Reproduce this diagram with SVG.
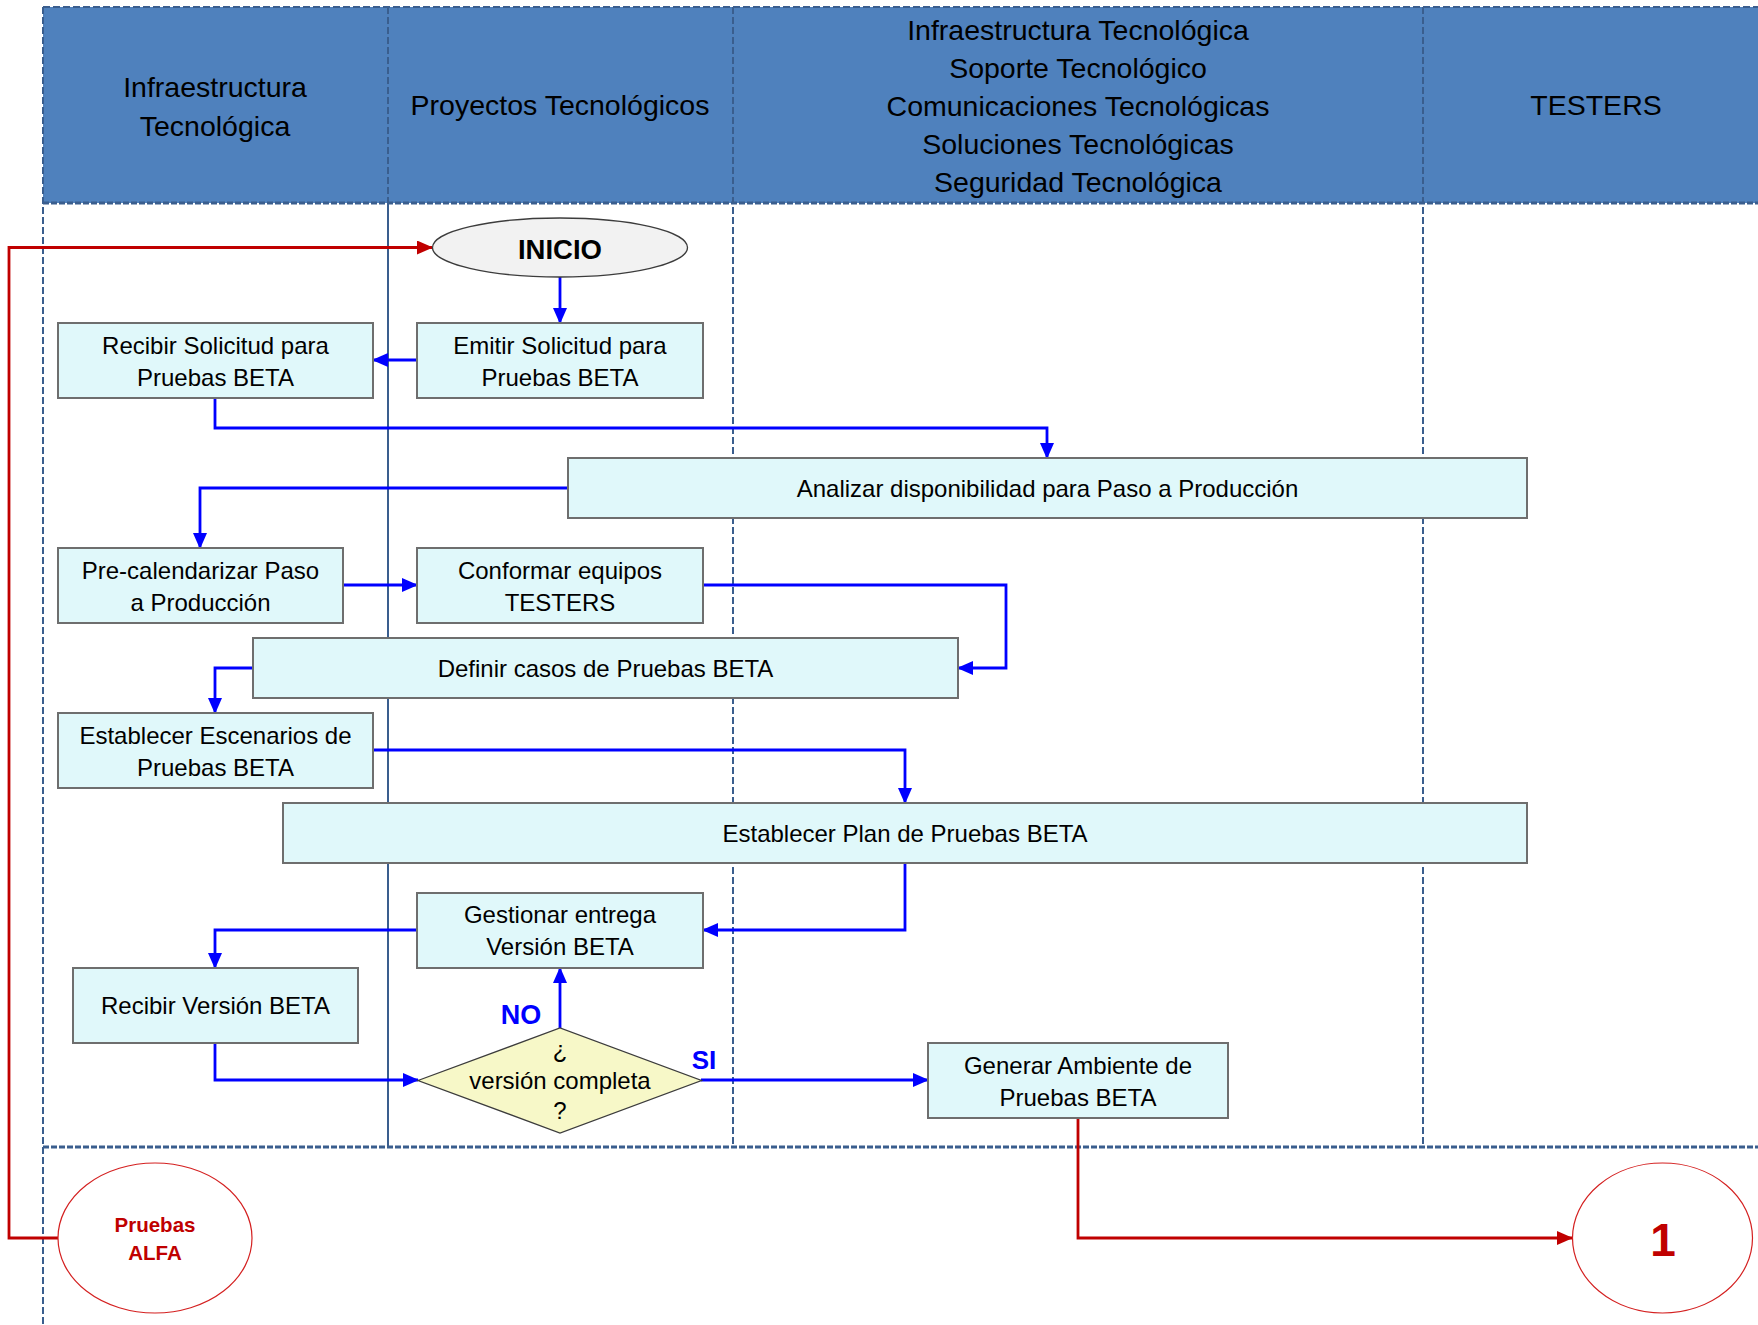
<svg xmlns="http://www.w3.org/2000/svg" width="1758" height="1325" viewBox="0 0 1758 1325">
<style>
.hdr{font-family:"Liberation Sans",Arial,sans-serif;font-size:28.5px;text-anchor:middle;fill:#000}
.lane{stroke:#3A5E8E;stroke-width:2;stroke-dasharray:7 3;fill:none}
.laneb{stroke:#3A5E8E;stroke-width:2.8;stroke-dasharray:6 2;fill:none}
.box{fill:#E0F8FA;stroke:#6E6E6E;stroke-width:2}
.txt{font-family:"Liberation Sans",Arial,sans-serif;font-size:24px;text-anchor:middle;fill:#000}
.blue{stroke:#0000FF;stroke-width:2.8;fill:none}
.red{stroke:#C00000;stroke-width:2.8;fill:none}
.lbl{font-family:"Liberation Sans",Arial,sans-serif;font-weight:bold;fill:#0000FF;text-anchor:middle}
.redtxt{font-family:"Liberation Sans",Arial,sans-serif;font-weight:bold;fill:#C00000;text-anchor:middle}
</style>
<defs>
<marker id="ab" markerUnits="userSpaceOnUse" markerWidth="16" markerHeight="14" refX="15" refY="7" orient="auto"><path d="M0,0 L16,7 L0,14 Z" fill="#0000FF"/></marker>
<marker id="ar" markerUnits="userSpaceOnUse" markerWidth="16" markerHeight="14" refX="15" refY="7" orient="auto"><path d="M0,0 L16,7 L0,14 Z" fill="#C00000"/></marker>
</defs>
<rect width="1758" height="1325" fill="#FFFFFF"/>
<g id="lanes">
<rect x="43" y="7" width="1715" height="196" fill="#4F81BD"/>
<line class="lane" x1="43" y1="7" x2="1758" y2="7"/>
<line class="laneb" x1="43" y1="203" x2="1758" y2="203"/>
<line class="laneb" x1="43" y1="1147" x2="1758" y2="1147"/>
<line class="lane" x1="43" y1="7" x2="43" y2="1325"/>
<line class="lane" x1="388" y1="7" x2="388" y2="203"/>
<line x1="388" y1="203" x2="388" y2="1147" stroke="#3A5E8E" stroke-width="2"/>
<line class="lane" x1="733" y1="7" x2="733" y2="1147"/>
<line class="lane" x1="1423" y1="7" x2="1423" y2="1147"/>
<text class="hdr" x="215" y="97">Infraestructura</text>
<text class="hdr" x="215" y="136">Tecnológica</text>
<text class="hdr" x="560" y="115">Proyectos Tecnológicos</text>
<text class="hdr" x="1078" y="40">Infraestructura Tecnológica</text>
<text class="hdr" x="1078" y="78">Soporte Tecnológico</text>
<text class="hdr" x="1078" y="116">Comunicaciones Tecnológicas</text>
<text class="hdr" x="1078" y="154">Soluciones Tecnológicas</text>
<text class="hdr" x="1078" y="192">Seguridad Tecnológica</text>
<text class="hdr" x="1596" y="115">TESTERS</text>
</g>
<g id="connectors">
<path class="red" d="M58,1238 H9 V247.5 H432" marker-end="url(#ar)"/>
<path class="red" d="M1078,1118 V1238 H1572" marker-end="url(#ar)"/>
<path class="blue" d="M560,277 V323" marker-end="url(#ab)"/>
<path class="blue" d="M417,360 H373" marker-end="url(#ab)"/>
<path class="blue" d="M215,398 V428 H1047 V458" marker-end="url(#ab)"/>
<path class="blue" d="M568,488 H200 V548" marker-end="url(#ab)"/>
<path class="blue" d="M343,585 H417" marker-end="url(#ab)"/>
<path class="blue" d="M703,585 H1006 V668 H958" marker-end="url(#ab)"/>
<path class="blue" d="M253,668 H215 V713" marker-end="url(#ab)"/>
<path class="blue" d="M373,750 H905 V803" marker-end="url(#ab)"/>
<path class="blue" d="M905,863 V930 H703" marker-end="url(#ab)"/>
<path class="blue" d="M417,930 H215 V968" marker-end="url(#ab)"/>
<path class="blue" d="M215,1043 V1080 H418" marker-end="url(#ab)"/>
<path class="blue" d="M560,1028 V968" marker-end="url(#ab)"/>
<path class="blue" d="M701,1080 H928" marker-end="url(#ab)"/>
<text class="lbl" x="521" y="1024" font-size="27">NO</text>
<text class="lbl" x="704" y="1069" font-size="26">SI</text>
</g>
<g id="inicio">
<ellipse cx="560" cy="247.5" rx="127.5" ry="29.5" fill="#F2F2F2" stroke="#3C3C3C" stroke-width="1.3"/>
<text x="560" y="259" font-family="Liberation Sans,Arial,sans-serif" font-weight="bold" font-size="27.5" text-anchor="middle">INICIO</text>
</g>
<g id="emitir">
<rect class="box" x="417" y="323" width="286" height="75"/>
<text class="txt" x="560" y="354">Emitir Solicitud para</text>
<text class="txt" x="560" y="386">Pruebas BETA</text>
</g>
<g id="recibir-solicitud">
<rect class="box" x="58" y="323" width="315" height="75"/>
<text class="txt" x="215.5" y="354">Recibir Solicitud para</text>
<text class="txt" x="215.5" y="386">Pruebas BETA</text>
</g>
<g id="analizar">
<rect class="box" x="568" y="458" width="959" height="60"/>
<text class="txt" x="1047.5" y="497">Analizar disponibilidad para Paso a Producción</text>
</g>
<g id="precalendarizar">
<rect class="box" x="58" y="548" width="285" height="75"/>
<text class="txt" x="200.5" y="579">Pre-calendarizar Paso</text>
<text class="txt" x="200.5" y="611">a Producción</text>
</g>
<g id="conformar">
<rect class="box" x="417" y="548" width="286" height="75"/>
<text class="txt" x="560" y="579">Conformar equipos</text>
<text class="txt" x="560" y="611">TESTERS</text>
</g>
<g id="definir">
<rect class="box" x="253" y="638" width="705" height="60"/>
<text class="txt" x="605.5" y="677">Definir casos de Pruebas BETA</text>
</g>
<g id="escenarios">
<rect class="box" x="58" y="713" width="315" height="75"/>
<text class="txt" x="215.5" y="744">Establecer Escenarios de</text>
<text class="txt" x="215.5" y="776">Pruebas BETA</text>
</g>
<g id="plan">
<rect class="box" x="283" y="803" width="1244" height="60"/>
<text class="txt" x="905" y="842">Establecer Plan de Pruebas BETA</text>
</g>
<g id="gestionar">
<rect class="box" x="417" y="893" width="286" height="75"/>
<text class="txt" x="560" y="923">Gestionar entrega</text>
<text class="txt" x="560" y="955">Versión BETA</text>
</g>
<g id="recibir-version">
<rect class="box" x="73" y="968" width="285" height="75"/>
<text class="txt" x="215.5" y="1014">Recibir Versión BETA</text>
</g>
<g id="decision">
<polygon points="418,1080.5 560,1028 701.5,1080.5 560,1133" fill="#F7F8C8" stroke="#3C3C3C" stroke-width="1.3"/>
<text class="txt" x="560" y="1058">¿</text>
<text class="txt" x="560" y="1089">versión completa</text>
<text class="txt" x="560" y="1119">?</text>
</g>
<g id="generar">
<rect class="box" x="928" y="1043" width="300" height="75"/>
<text class="txt" x="1078" y="1074">Generar Ambiente de</text>
<text class="txt" x="1078" y="1106">Pruebas BETA</text>
</g>
<g id="pruebas-alfa">
<ellipse cx="155" cy="1238" rx="97" ry="75" fill="#FFFFFF" stroke="#D42020" stroke-width="1.2"/>
<text class="redtxt" x="155" y="1232" font-size="20.5">Pruebas</text>
<text class="redtxt" x="155" y="1260" font-size="20.5">ALFA</text>
</g>
<g id="conector-1">
<ellipse cx="1662.5" cy="1238" rx="90" ry="75" fill="#FFFFFF" stroke="#D42020" stroke-width="1.2"/>
<text class="redtxt" x="1663" y="1256" font-size="46">1</text>
</g>
</svg>
